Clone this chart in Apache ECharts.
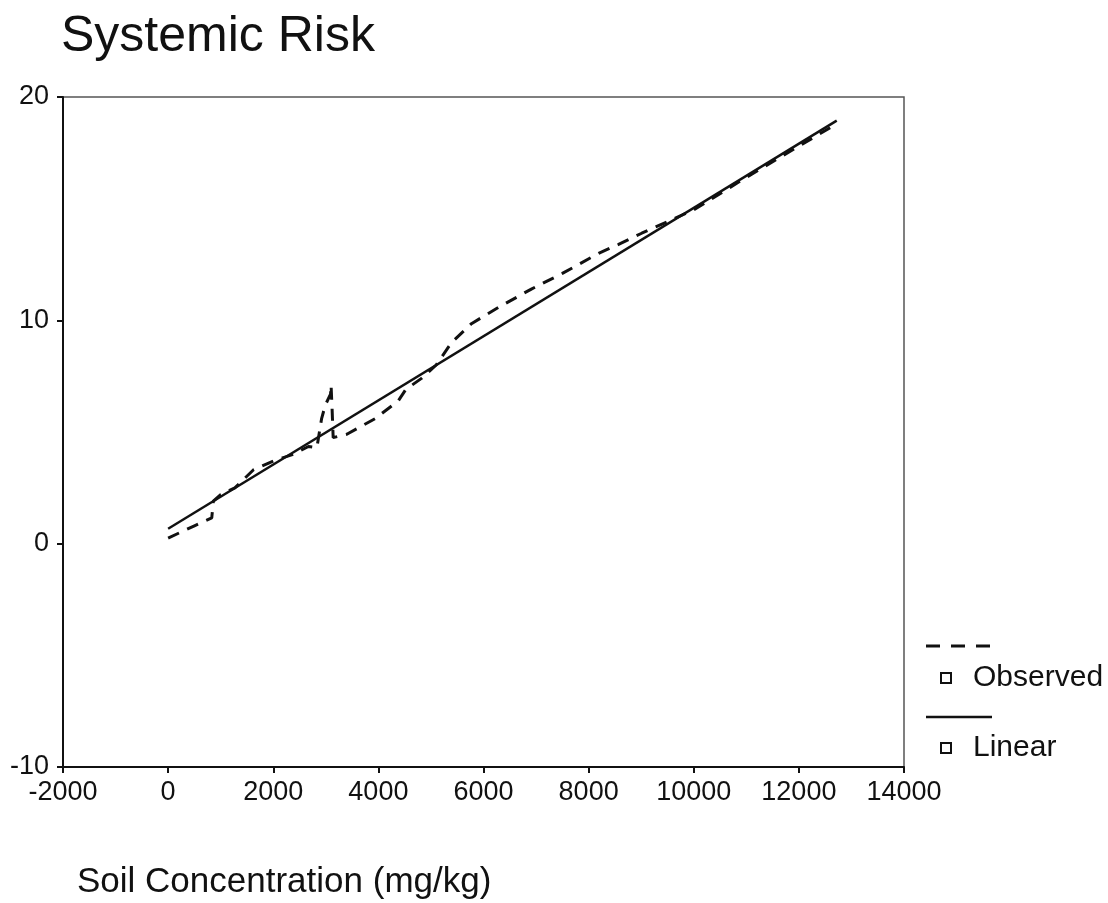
<!DOCTYPE html>
<html>
<head>
<meta charset="utf-8">
<script src="https://cdn.jsdelivr.net/npm/echarts@6/dist/echarts.min.js"></script>
<style>
html,body{margin:0;padding:0;background:#fff;}
#chart{width:1108px;height:903px;}
</style>
</head>
<body>
<div id="chart"></div>
<script>
// ---- data ----
const observedX = [0, 500, 830, 860, 1000, 1270, 1620, 2000, 2380, 2670, 2830, 2920, 2990, 3090, 3100, 3120, 3140, 3400, 3940, 4380, 4520, 4820, 5100, 5390, 5770, 6300, 6910, 7500, 8190, 8570, 9010, 10000, 11000, 12000, 12720];
const observedY = [0.25, 0.8, 1.15, 1.9, 2.2, 2.5, 3.3, 3.7, 4.0, 4.35, 4.3, 5.6, 6.2, 6.7, 7.1, 6.0, 4.75, 4.9, 5.6, 6.4, 6.9, 7.4, 8.0, 9.0, 9.85, 10.6, 11.4, 12.1, 13.0, 13.4, 13.9, 14.95, 16.4, 17.8, 18.8];
const linearX = [0, 12720];
const linearY = [0.67, 18.94];
const xTicks = { min: -2000, max: 14000, step: 2000 };
const yTicks = { min: -10, max: 20, step: 10 };
const seriesNames = ['Observed', 'Linear'];
const titleText = 'Systemic Risk';
const xAxisTitle = 'Soil Concentration (mg/kg)';

const zip = (xs, ys) => xs.map((x, i) => [x, ys[i]]);
const FONT = '"Liberation Sans", Arial, sans-serif';
const INK = '#111';

const chart = echarts.init(document.getElementById('chart'), null, { renderer: 'canvas' });
chart.setOption({
  animation: false,
  backgroundColor: '#fff',
  title: [
    { text: titleText, left: 61, top: 12, padding: 0,
      textStyle: { fontFamily: FONT, fontSize: 50, fontWeight: 'normal', color: INK } },
    { text: xAxisTitle, left: 77, top: 865, padding: 0,
      textStyle: { fontFamily: FONT, fontSize: 35, fontWeight: 'normal', color: INK } }
  ],
  grid: { left: 63, right: 204, top: 97, bottom: 136, show: true, borderColor: '#555', borderWidth: 1.5 },
  legend: {
    orient: 'vertical', left: 940, top: 662, padding: 0, itemGap: 38,
    itemWidth: 10, itemHeight: 10,
    data: seriesNames.map(n => ({ name: n, icon: 'rect',
      itemStyle: { color: '#fff', borderColor: INK, borderWidth: 2 } })),
    textStyle: { fontFamily: FONT, fontSize: 30, color: INK, lineHeight: 32, padding: [0, 0, 0, 17] },
    selectedMode: false
  },
  xAxis: {
    type: 'value', min: xTicks.min, max: xTicks.max, interval: xTicks.step,
    axisLine: { show: true, onZero: false, lineStyle: { color: INK, width: 2 } },
    axisTick: { show: true, inside: false, length: 6, lineStyle: { color: INK, width: 2 } },
    axisLabel: { margin: 12, fontFamily: FONT, fontSize: 27, color: INK, formatter: v => String(v) },
    splitLine: { show: false }
  },
  yAxis: {
    type: 'value', min: yTicks.min, max: yTicks.max, interval: yTicks.step,
    axisLine: { show: true, onZero: false, lineStyle: { color: INK, width: 2 } },
    axisTick: { show: true, inside: false, length: 6, lineStyle: { color: INK, width: 2 } },
    axisLabel: { margin: 14, fontFamily: FONT, fontSize: 27, color: INK, formatter: v => String(v),
      rich: {} },
    splitLine: { show: false }
  },
  series: [
    { name: seriesNames[0], type: 'line', data: zip(observedX, observedY), showSymbol: false,
      lineStyle: { color: INK, width: 3, type: [12, 9] }, itemStyle: { color: INK } },
    { name: seriesNames[1], type: 'line', data: zip(linearX, linearY), showSymbol: false,
      lineStyle: { color: INK, width: 2.5 }, itemStyle: { color: INK } }
  ],
  graphic: [
    { type: 'line', shape: { x1: 926, y1: 646, x2: 990, y2: 646 },
      style: { stroke: INK, lineWidth: 3, lineDash: [14, 11] } },
    { type: 'line', shape: { x1: 926, y1: 717, x2: 992, y2: 717 },
      style: { stroke: INK, lineWidth: 2.5 } }
  ]
});
</script>
</body>
</html>
